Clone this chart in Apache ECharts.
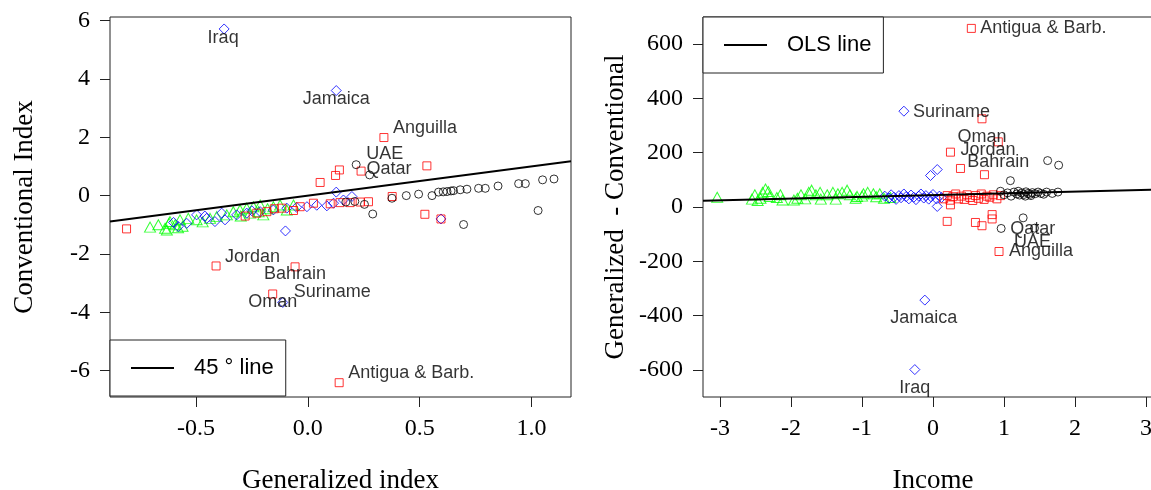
<!DOCTYPE html>
<html>
<head>
<meta charset="utf-8">
<script src="https://cdn.jsdelivr.net/npm/echarts@6/dist/echarts.min.js"></script>
<style>
  html, body { margin: 0; padding: 0; background: #fff; }
  #chart { width: 1151px; height: 490px; }
</style>
</head>
<body>
<div id="chart"></div>
<script>
// ---- Tick labels ----
const genIndexTicks = [-0.5, 0, 0.5, 1.0];
const convIndexTicks = [-6, -4, -2, 0, 2, 4, 6];
const incomeTicks = [-3, -2, -1, 0, 1, 2, 3];
const diffTicks = [-600, -400, -200, 0, 200, 400, 600];

// ---- Left panel: [generalized index, conventional index, country] ----
const lowIncomeIdx = [
  [-0.705, -1.08], [-0.668, -1.00], [-0.638, -1.12], [-0.630, -1.18], [-0.616, -0.89],
  [-0.593, -1.00], [-0.571, -0.83], [-0.560, -1.05], [-0.534, -0.78], [-0.497, -0.83],
  [-0.470, -0.90], [-0.437, -0.78], [-0.407, -0.72], [-0.362, -0.66], [-0.333, -0.55],
  [-0.303, -0.49], [-0.273, -0.43], [-0.258, -0.60], [-0.243, -0.38], [-0.213, -0.32],
  [-0.199, -0.66], [-0.180, -0.45], [-0.154, -0.38], [-0.124, -0.32], [-0.094, -0.49],
  [-0.064, -0.32], [-0.300, -0.70], [-0.220, -0.55], [-0.620, -0.95], [-0.580, -1.10]
];
const lowerMidIdx = [
  [-0.579, -1.06], [-0.541, -0.95], [-0.497, -0.66], [-0.452, -0.78], [-0.415, -0.89],
  [-0.385, -0.60], [-0.370, -0.83], [-0.318, -0.66], [-0.273, -0.60], [-0.213, -0.55],
  [-0.154, -0.49], [-0.094, -0.43], [-0.004, -0.38], [0.085, -0.35], [0.115, -0.26],
  [0.159, -0.15], [0.127, 0.12], [0.197, -0.03], [-0.100, -1.21], [0.595, -0.80],
  [-0.600, -0.92], [-0.460, -0.70], [-0.250, -0.52], [-0.050, -0.40], [0.040, -0.33],
  [-0.374, 5.71, 'Iraq'], [0.127, 3.60, 'Jamaica'], [-0.112, -3.66, 'Suriname']
];
const upperMidIdx = [
  [-0.810, -1.14], [-0.280, -0.70], [-0.228, -0.60], [-0.183, -0.55], [-0.116, -0.43],
  [-0.064, -0.51], [-0.034, -0.38], [0.025, -0.26], [0.144, -0.24], [0.189, -0.24],
  [0.234, -0.22], [0.271, -0.21], [0.377, -0.03], [0.055, 0.45], [0.124, 0.69],
  [0.141, 0.88], [0.238, 0.84], [0.532, 1.02], [0.523, -0.64], [0.595, -0.80],
  [-0.150, -0.45], [0.100, -0.28],
  [0.340, 1.99, 'Anguilla'], [-0.410, -2.41, 'Jordan'], [-0.057, -2.44, 'Bahrain'],
  [-0.157, -3.37, 'Oman'], [0.140, -6.41, 'Antigua & Barb.']
];
const highIncomeIdx = [
  [0.216, 1.06, 'UAE'], [0.276, 0.71, 'Qatar'], [0.290, -0.63], [0.253, -0.30], [0.376, -0.09],
  [0.440, 0.00], [0.495, 0.05], [0.555, 0.00], [0.584, 0.12], [0.622, 0.14],
  [0.651, 0.17], [0.681, 0.20], [0.711, 0.22], [0.763, 0.25], [0.793, 0.25],
  [0.850, 0.33], [0.942, 0.41], [0.972, 0.41], [1.049, 0.54], [1.100, 0.57],
  [1.029, -0.51], [0.696, -0.99], [0.170, -0.22], [0.210, -0.20], [0.605, 0.13], [0.640, 0.16]
];

// ---- Right panel: [income, generalized - conventional, country] ----
const lowIncomeDiff = [
  [-3.04, 36], [-2.55, 29], [-2.51, 45], [-2.47, 24], [-2.43, 32], [-2.40, 54], [-2.36, 66],
  [-2.32, 57], [-2.30, 39], [-2.15, 45], [-2.12, 26], [-1.96, 26], [-1.91, 32], [-1.86, 45],
  [-1.75, 54], [-1.71, 62], [-1.65, 45], [-1.59, 54], [-1.58, 29], [-1.49, 45], [-1.41, 54],
  [-1.37, 29], [-1.34, 49], [-1.28, 54], [-1.21, 62], [-1.17, 45], [-1.09, 32], [-1.07, 39],
  [-0.98, 49], [-0.92, 54], [-0.84, 49], [-0.75, 49], [-0.69, 32], [-2.20, 35], [-1.80, 30],
  [-1.00, 40], [-0.80, 38], [-0.60, 35]
];
const lowerMidDiff = [
  [-0.68, 40], [-0.62, 33], [-0.59, 45], [-0.55, 36], [-0.52, 28], [-0.48, 42], [-0.45, 34],
  [-0.41, 48], [-0.38, 38], [-0.34, 30], [-0.31, 44], [-0.27, 36], [-0.24, 27], [-0.20, 40],
  [-0.17, 48], [-0.13, 33], [-0.10, 42], [-0.06, 29], [-0.03, 38], [0.00, 46], [0.05, 30],
  [0.09, 40], [0.12, 35], [0.06, 2], [-0.035, 116], [0.06, 138],
  [-0.41, 353, 'Suriname'], [-0.115, -343, 'Jamaica'], [-0.256, -599, 'Iraq']
];
const upperMidDiff = [
  [0.15, 30], [0.20, 42], [0.24, 25], [0.28, 38], [0.32, 48], [0.36, 30], [0.40, 40],
  [0.44, 28], [0.48, 45], [0.52, 35], [0.56, 24], [0.60, 42], [0.64, 32], [0.68, 48],
  [0.72, 28], [0.76, 40], [0.80, 36], [0.85, 45], [0.90, 30], [0.95, 42],
  [0.246, 8], [0.20, -53], [0.598, -57], [0.69, -69], [0.833, -28], [0.833, -44],
  [0.387, 142], [0.725, 119],
  [0.54, 658, 'Antigua & Barb.'], [0.69, 325, 'Oman'], [0.246, 202, 'Jordan'],
  [0.92, 240, 'Bahrain'], [0.93, -164, 'Anguilla']
];
const highIncomeDiff = [
  [0.95, 58], [1.00, 45], [1.05, 52], [1.10, 40], [1.14, 55], [1.18, 48], [1.22, 44],
  [1.25, 52], [1.28, 46], [1.31, 56], [1.34, 50], [1.37, 47], [1.40, 53], [1.44, 49],
  [1.48, 55], [1.52, 50], [1.56, 47], [1.60, 55], [1.68, 50], [1.76, 55], [1.20, 58],
  [1.30, 40], [1.38, 42], [1.615, 171], [1.77, 154], [1.09, 97], [1.27, -40],
  [0.96, -79, 'Qatar'], [1.43, -78, 'UAE']
];

// OLS fit of the difference on income: [intercept, slope]
const olsCoef = [44, 6.5];

// Axis limits
const genLim = [-0.884, 1.176];
const convLim = [-6.90, 6.12];
const incomeLim = [-3.24, 3.24];
const diffLim = [-700, 700];

// Label placement for named countries: [align, dx, dy] from the marker centre
const placement = [
  {
    'Iraq': ['center', -1, 9], 'Jamaica': ['center', 0, 8], 'Anguilla': ['left', 9, -10],
    'UAE': ['left', 10, -11], 'Qatar': ['left', -3, -6], 'Jordan': ['left', 9, -9],
    'Bahrain': ['center', 0, 7], 'Oman': ['center', 0, 8], 'Suriname': ['left', 11, -10],
    'Antigua & Barb.': ['left', 9, -10]
  },
  {
    'Antigua & Barb.': ['left', 9, 0], 'Suriname': ['left', 9, 1], 'Oman': ['center', 0, 18],
    'Jordan': ['left', 10, -2], 'Bahrain': ['center', 0, 20], 'Qatar': ['left', 9, 1],
    'UAE': ['center', -2, 14], 'Anguilla': ['left', 10, 0], 'Jamaica': ['center', -1, 18],
    'Iraq': ['center', 0, 18]
  }
];

const SERIF = 'Liberation Serif, Times New Roman, serif';
const SANS = 'Liberation Sans, Arial, sans-serif';
const INK = '#222';

function groupSeries(name, points, panel, symbol, size, color) {
  return {
    type: 'scatter',
    name: name,
    xAxisIndex: panel,
    yAxisIndex: panel,
    symbol: symbol,
    symbolSize: size,
    silent: true,
    itemStyle: { color: 'transparent', borderColor: color, borderWidth: 1 },
    emphasis: { disabled: true },
    data: points.map(function (p) {
      const item = { value: [p[0], p[1]] };
      if (p[2]) {
        const pl = placement[panel][p[2]];
        item.name = p[2];
        item.label = {
          show: true,
          formatter: p[2],
          position: 'inside',
          align: pl[0],
          verticalAlign: 'middle',
          offset: [pl[1], pl[2]],
          color: '#000',
          fontFamily: SANS,
          fontSize: 18
        };
      }
      return item;
    })
  };
}

function valueAxis(panel, lim, ticks, fmt, name, isX, nameGap) {
  return {
    type: 'value',
    gridIndex: panel,
    min: lim[0],
    max: lim[1],
    axisLine: { show: false, onZero: false },
    splitLine: { show: false },
    axisTick: { show: true, inside: false, length: 10, customValues: ticks, lineStyle: { color: INK, width: 1 } },
    axisLabel: {
      customValues: ticks,
      formatter: fmt,
      fontFamily: SERIF,
      fontSize: 24,
      color: '#000',
      margin: isX ? 20 : 20,
      padding: isX ? 0 : [4, 0, 0, 0]
    },
    name: name,
    nameLocation: 'middle',
    nameGap: nameGap,
    nameRotate: isX ? 0 : 90,
    nameTextStyle: { fontFamily: SERIF, fontSize: 27, color: '#000' }
  };
}

function boxedLegend(seriesName, left, top) {
  return {
    data: [{ name: seriesName, icon: 'rect' }],
    left: left,
    top: top,
    orient: 'horizontal',
    itemWidth: 43,
    itemHeight: 2,
    padding: [17, 12, 17, 21],
    borderColor: INK,
    borderWidth: 1,
    backgroundColor: '#fff',
    selectedMode: false,
    textStyle: { fontFamily: SANS, fontSize: 22, color: '#000', padding: [0, 0, 0, 15] }
  };
}

const chart = echarts.init(document.getElementById('chart'), null, { renderer: 'canvas' });

chart.setOption({
  animation: false,
  backgroundColor: '#fff',
  grid: [
    { left: 110, top: 17, width: 461, height: 380, show: true, borderColor: INK, borderWidth: 1,
      backgroundColor: 'transparent', outerBoundsMode: 'none', containLabel: false },
    { left: 703, top: 17, width: 460, height: 380, show: true, borderColor: INK, borderWidth: 1,
      backgroundColor: 'transparent', outerBoundsMode: 'none', containLabel: false }
  ],
  xAxis: [
    valueAxis(0, genLim, genIndexTicks, function (v) { return v.toFixed(1); }, 'Generalized index', true, 70),
    valueAxis(1, incomeLim, incomeTicks, function (v) { return String(v); }, 'Income', true, 70)
  ],
  yAxis: [
    valueAxis(0, convLim, convIndexTicks, function (v) { return String(v); }, 'Conventional Index', false, 72),
    valueAxis(1, diffLim, diffTicks, function (v) { return String(v); }, 'Generalized  - Conventional', false, 74)
  ],
  legend: [
    boxedLegend('45 ° line', 110, 340),
    boxedLegend('OLS line', 703, 17)
  ],
  series: [
    groupSeries('Low income', lowIncomeIdx, 0, 'triangle', [11, 10], '#00ff00'),
    groupSeries('Lower middle income', lowerMidIdx, 0, 'diamond', [10, 10], '#0000ff'),
    groupSeries('Upper middle income', upperMidIdx, 0, 'rect', [8, 8], '#ff0000'),
    groupSeries('High income', highIncomeIdx, 0, 'circle', [8, 8], '#000000'),
    {
      type: 'line', name: '45 ° line', xAxisIndex: 0, yAxisIndex: 0,
      data: genLim.map(function (v) { return [v, v]; }),
      showSymbol: false, symbol: 'none', silent: true, color: '#000',
      lineStyle: { color: '#000', width: 2 }
    },
    groupSeries('Low income ', lowIncomeDiff, 1, 'triangle', [11, 10], '#00ff00'),
    groupSeries('Lower middle income ', lowerMidDiff, 1, 'diamond', [10, 10], '#0000ff'),
    groupSeries('Upper middle income ', upperMidDiff, 1, 'rect', [8, 8], '#ff0000'),
    groupSeries('High income ', highIncomeDiff, 1, 'circle', [8, 8], '#000000'),
    {
      type: 'line', name: 'OLS line', xAxisIndex: 1, yAxisIndex: 1,
      data: incomeLim.map(function (v) { return [v, olsCoef[0] + olsCoef[1] * v]; }),
      showSymbol: false, symbol: 'none', silent: true, color: '#000',
      lineStyle: { color: '#000', width: 2 }
    }
  ]
});
</script>
</body>
</html>
